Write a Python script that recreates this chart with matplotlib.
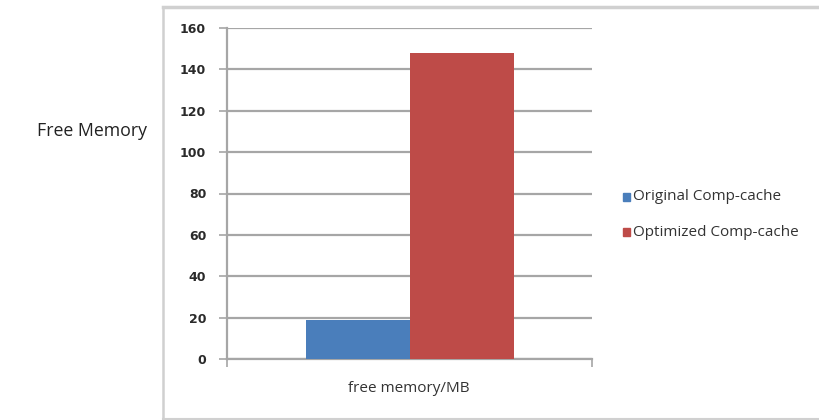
import matplotlib
matplotlib.use("Agg")
import matplotlib.pyplot as plt
from matplotlib.patches import Rectangle
from matplotlib.lines import Line2D

category = "free memory/MB"
series_names = ["Original Comp-cache", "Optimized Comp-cache"]
series_values = [19, 148]
series_colors = ["#4a7ebb", "#be4b48"]
y_ticks = [0, 20, 40, 60, 80, 100, 120, 140, 160]

W, H = 819, 420
fig = plt.figure(figsize=(W / 100, H / 100), dpi=100)
fig.patch.set_facecolor("white")

# chart frame
frame_color = "#d0d0d0"
fig.add_artist(Line2D([163 / W, 163 / W], [1 - 7 / H, 1 - 419 / H], color=frame_color, lw=1.8))
fig.add_artist(Line2D([163 / W, 1.0], [1 - 7 / H, 1 - 7 / H], color=frame_color, lw=2.5))
fig.add_artist(Line2D([163 / W, 1.0], [1 - 419 / H, 1 - 419 / H], color=frame_color, lw=1.5))

# plot area
x0, x1 = 227, 592
y_top, y_bot = 28, 359
ax = fig.add_axes([x0 / W, 1 - y_bot / H, (x1 - x0) / W, (y_bot - y_top) / H])
ax.set_xlim(0, 1)
ax.set_ylim(0, 160)

bar_w = (409 - 305) / (x1 - x0)
centers = [0.5 - bar_w / 2, 0.5 + bar_w / 2]
for c, v, col, name in zip(centers, series_values, series_colors, series_names):
    ax.bar(c, v, width=bar_w, color=col, label=name, zorder=3)

ax.set_yticks(y_ticks)
ax.set_yticklabels([str(t) for t in y_ticks], fontsize=9, color="#2a2a2a",
                   family="DejaVu Sans", fontweight="bold")
ax.yaxis.grid(True, color="#a6a6a6", lw=1.6, zorder=0)
ax.set_axisbelow(True)
ax.tick_params(axis="y", length=6, width=1.2, color="#a6a6a6", pad=9)
ax.set_xticks([0, 1])
ax.set_xticklabels(["", ""])
ax.tick_params(axis="x", length=6, width=1.2, color="#a6a6a6", direction="out")
for s in ["top", "right"]:
    ax.spines[s].set_visible(False)
ax.spines["left"].set_color("#a6a6a6")
ax.spines["left"].set_linewidth(1.6)
ax.spines["bottom"].set_color("#a6a6a6")
ax.spines["bottom"].set_linewidth(1.6)

fig.text(409 / W, 1 - 389 / H, category, ha="center", va="center",
         fontsize=11, color="#333333", family="Open Sans")

fig.text(92 / W, 1 - 131 / H, "Free Memory", ha="center", va="center",
         fontsize=12.8, color="#222222", family="Open Sans")

# legend
for i, (name, col) in enumerate(zip(series_names, series_colors)):
    y = 1 - (197 + 35 * i) / H
    fig.add_artist(Rectangle((623 / W, y - 4 / H), 7 / W, 8 / H, color=col,
                             transform=fig.transFigure))
    fig.text(633 / W, y, name, ha="left", va="center", fontsize=11,
             color="#333333", family="Open Sans")

fig.savefig("out.png", dpi=100, facecolor="white")
